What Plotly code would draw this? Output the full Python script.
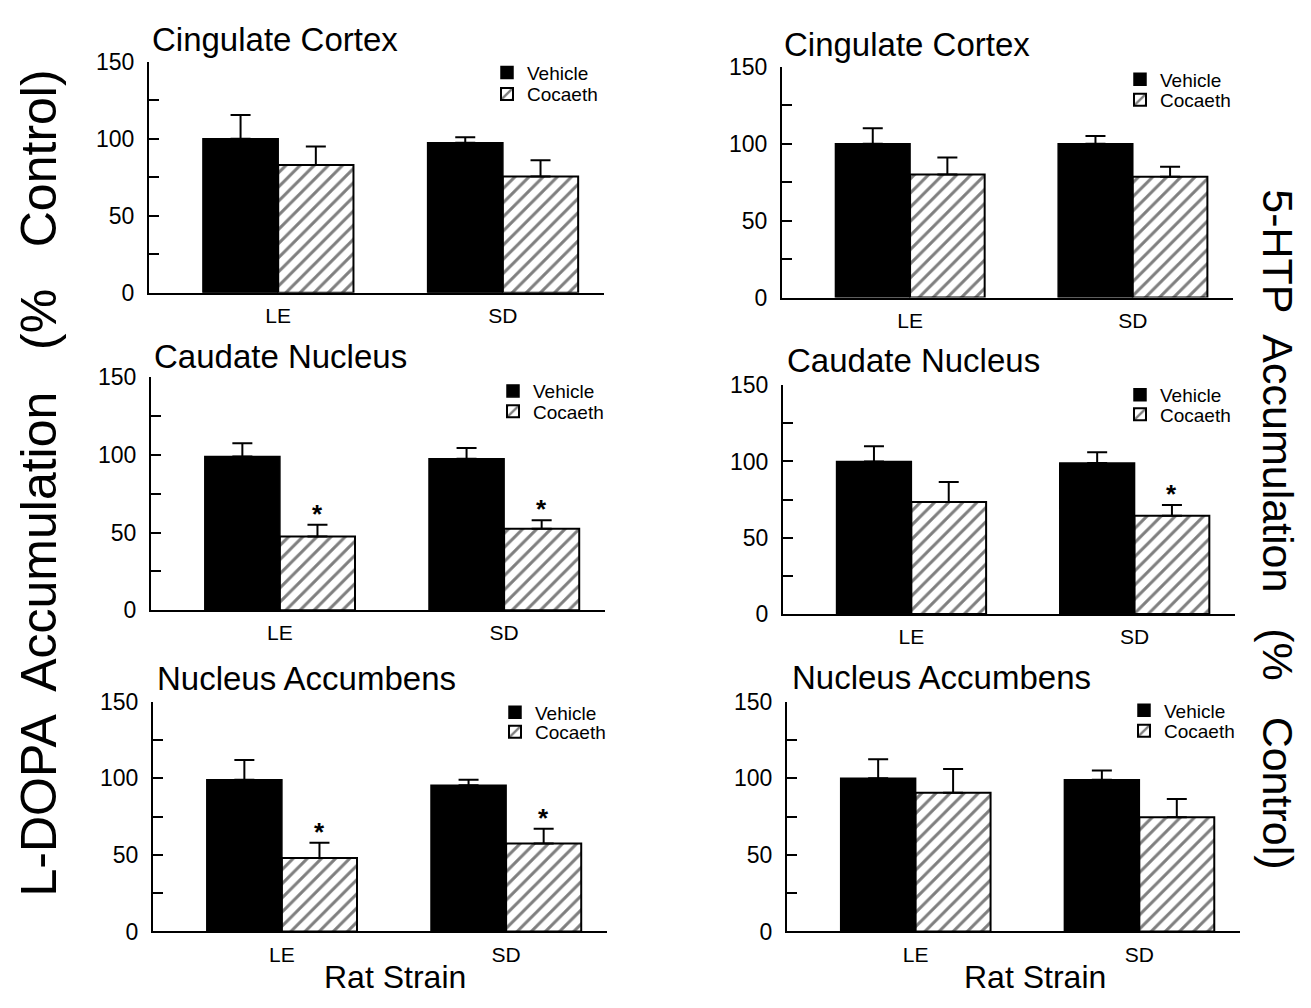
import plotly.graph_objects as go

# The page body has an 8px default margin; size the figure so it fits the
# 1311x1008 window without scrollbars and map reference pixels accordingly.
OFF = 8
W, H = 1311 - 2 * OFF, 1008 - 2 * OFF


def fx(px):
    return (px - OFF) / W


def fy(py):
    return 1 - (py - OFF) / H


strains = ["LE", "SD"]
regions = ["Cingulate Cortex", "Caudate Nucleus", "Nucleus Accumbens"]
series_names = ["Vehicle", "Cocaeth"]

# L-DOPA accumulation (% control) - left column, rows = regions, cols = strains
ldopa_vehicle = [[100, 97.5], [99, 97.5], [99, 95.5]]
ldopa_vehicle_err = [[15.5, 3.5], [8.5, 7.0], [13.0, 3.5]]
ldopa_cocaeth = [[83, 75.5], [47.5, 52.5], [48, 57.5]]
ldopa_cocaeth_err = [[12.0, 10.5], [7.5, 5.5], [10.0, 9.5]]
ldopa_sig = [[False, False], [True, True], [True, True]]

# 5-HTP accumulation (% control) - right column
htp_vehicle = [[100, 100], [100, 99], [100, 99]]
htp_vehicle_err = [[10.0, 5.0], [10.0, 7.0], [12.5, 6.0]]
htp_cocaeth = [[80, 78.5], [73.5, 64.5], [90.5, 74.5]]
htp_cocaeth_err = [[11.0, 6.5], [13.0, 7.0], [15.5, 12.0]]
htp_sig = [[False, False], [False, True], [False, False]]

y_tickvals = [0, 25, 50, 75, 100, 125, 150]
y_ticktext = ["0", "", "50", "", "100", "", "150"]

FONT = "Liberation Sans, Arial, Helvetica, sans-serif"

# panel geometry in reference pixels: (x_left, x_right, y_top(150), y_bottom(0))
geom_left = [(149, 604, 50, 287), (151, 605, 374, 613), (153, 607, 707, 943)]
geom_right = [(782, 1233, 55, 292), (783, 1235, 382, 617), (787, 1240, 707, 943)]
title_pos_left = [(150, 27), (152, 353), (155, 683)]
title_pos_right = [(782, 32), (785, 357), (790, 682)]
# legend: (text start x, Vehicle row centre y, Cocaeth row centre y)
legend_pos_left = [(527, 61, 83), (533, 388, 409), (535, 718, 738)]
legend_pos_right = [(1160, 68, 89), (1160, 392, 412), (1164, 716, 737)]

BARGAP = 0.33
XRANGE = [-0.575, 1.45]

fig = go.Figure()
layout = dict(
    width=W, height=H,
    margin=dict(l=0, r=0, t=0, b=0),
    paper_bgcolor="white", plot_bgcolor="white",
    barmode="group", bargap=BARGAP, bargroupgap=0,
    font=dict(family=FONT, color="black"),
    showlegend=True,
)
annotations = []

panels = []
for r in range(3):
    panels.append((r, ldopa_vehicle[r], ldopa_vehicle_err[r], ldopa_cocaeth[r],
                   ldopa_cocaeth_err[r], ldopa_sig[r], geom_left[r], title_pos_left[r],
                   legend_pos_left[r]))
    panels.append((r, htp_vehicle[r], htp_vehicle_err[r], htp_cocaeth[r],
                   htp_cocaeth_err[r], htp_sig[r], geom_right[r], title_pos_right[r],
                   legend_pos_right[r]))

xs = list(range(len(strains)))
for k, (r, veh, veh_err, coc, coc_err, sig, g, tpos, lpos) in enumerate(panels):
    idx = k + 1
    xa = "x" if idx == 1 else f"x{idx}"
    ya = "y" if idx == 1 else f"y{idx}"
    xkey = "xaxis" if idx == 1 else f"xaxis{idx}"
    ykey = "yaxis" if idx == 1 else f"yaxis{idx}"
    l1 = "legend" if k == 0 else f"legend{2 * k + 1}"
    l2 = f"legend{2 * k + 2}"

    fig.add_trace(go.Bar(
        x=xs, y=veh, name=series_names[0], xaxis=xa, yaxis=ya, legend=l1,
        marker=dict(color="black", line=dict(color="black", width=1.5)),
        error_y=dict(type="data", array=veh_err, arrayminus=[0] * len(veh),
                     symmetric=False, color="black", thickness=2, width=10),
    ))
    fig.add_trace(go.Bar(
        x=xs, y=coc, name=series_names[1], xaxis=xa, yaxis=ya, legend=l2,
        marker=dict(color="white", line=dict(color="black", width=2),
                    pattern=dict(shape="/", fgcolor="black", bgcolor="white",
                                 size=10, solidity=0.3)),
        error_y=dict(type="data", array=coc_err, arrayminus=[0] * len(coc),
                     symmetric=False, color="black", thickness=2, width=10),
    ))

    x0, x1, yt, yb = g
    layout[xkey] = dict(
        domain=[fx(x0), fx(x1)], anchor=ya, range=XRANGE,
        tickvals=xs, ticktext=strains, ticks="", showline=True, linecolor="black",
        linewidth=2, showgrid=False, zeroline=False, fixedrange=True,
        tickfont=dict(size=21, family=FONT, color="black"), ticklabelstandoff=3,
    )
    layout[ykey] = dict(
        domain=[fy(yb), fy(yt)], anchor=xa, range=[0, 150],
        tickvals=y_tickvals, ticktext=y_ticktext, ticks="inside", ticklen=10,
        tickwidth=1.5, tickcolor="black", showline=True, linecolor="black",
        linewidth=2, showgrid=False, zeroline=False, fixedrange=True,
        tickfont=dict(size=23, family=FONT, color="black"), ticklabelstandoff=8,
    )
    for lk, yc in ((l1, lpos[1]), (l2, lpos[2])):
        layout[lk] = dict(
            x=fx(lpos[0] - 40), y=fy(yc), xanchor="left", yanchor="middle",
            bgcolor="rgba(0,0,0,0)", borderwidth=0, tracegroupgap=0,
            font=dict(size=19, family=FONT, color="black"), itemclick=False,
            itemdoubleclick=False,
        )

    annotations.append(dict(
        text=regions[r], xref="paper", yref="paper", x=fx(tpos[0]), y=fy(tpos[1]),
        xanchor="left", yanchor="middle", showarrow=False,
        font=dict(size=33, family=FONT, color="black"),
    ))

    offset = (1 - BARGAP) / 4
    for i, s in enumerate(sig):
        if s:
            annotations.append(dict(
                text="<b>*</b>", xref=xa, yref=ya, x=xs[i] + offset, y=coc[i] + coc_err[i],
                xanchor="center", yanchor="middle", yshift=11, showarrow=False,
                font=dict(size=26, family=FONT, color="black"),
            ))

# Axis titles
for cx in (395, 1035):
    annotations.append(dict(text="Rat Strain", xref="paper", yref="paper", x=fx(cx),
                            y=fy(990), xanchor="center", yanchor="middle", showarrow=False,
                            font=dict(size=32, family=FONT, color="black")))
annotations.append(dict(text="L-DOPA  Accumulation   (%   Control)", xref="paper",
                        yref="paper", x=fx(39), y=fy(483), xanchor="center",
                        yanchor="middle", textangle=-90, showarrow=False,
                        font=dict(size=50, family=FONT, color="black")))
annotations.append(dict(text="5-HTP  Accumulation   (%   Control)", xref="paper",
                        yref="paper", x=fx(1278), y=fy(530), xanchor="center",
                        yanchor="middle", textangle=90, showarrow=False,
                        font=dict(size=43, family=FONT, color="black")))

layout["annotations"] = annotations
fig.update_layout(**layout)
fig.write_html("out.html")
